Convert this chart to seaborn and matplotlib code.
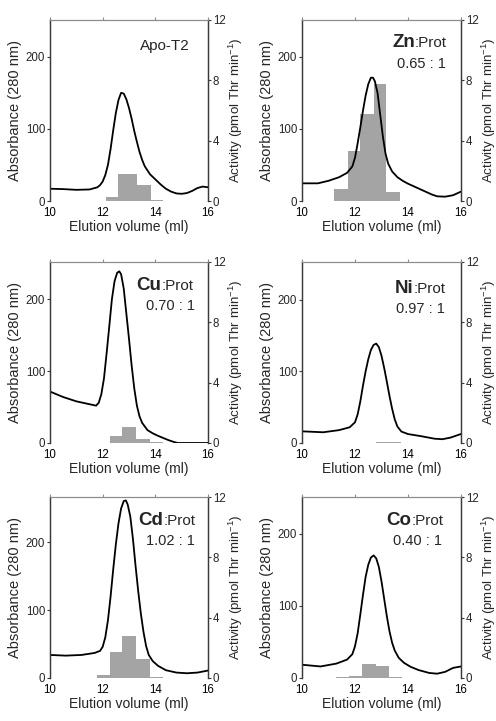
"""
Elution profiles of T2 with different metals: absorbance (line) and activity (bars)
"""
import numpy as np
import matplotlib
matplotlib.use("Agg")
import matplotlib.pyplot as plt
import seaborn as sns

sns.set_theme(style="ticks")
plt.rcParams["font.family"] = ["Liberation Sans", "DejaVu Sans"]
plt.rcParams["mathtext.fontset"] = "custom"
plt.rcParams["mathtext.rm"] = "Liberation Sans"
plt.rcParams["mathtext.it"] = "Liberation Sans:italic"

# ── data: absorbance curves (ml, A280) ────────────────────────
apo_x = [10, 10.5, 11, 11.5, 11.8, 11.9, 12.0, 12.1, 12.2, 12.3, 12.4, 12.5, 12.6, 12.7, 12.8, 12.9, 13.0,
         13.1, 13.2, 13.3, 13.4, 13.5, 13.6, 13.8, 14.0, 14.2, 14.4, 14.6, 14.8, 15.0, 15.2, 15.4, 15.6, 15.8, 16]
apo_y = [17, 16.5, 15.5, 16, 19, 22, 27, 36, 50, 72, 98, 122, 140, 150, 149, 141, 129,
         114, 97, 82, 68, 57, 48, 37, 30, 23, 17, 13, 10.5, 10, 11, 14, 18, 20, 19]

zn_x = [10, 10.6, 11.0, 11.4, 11.7, 11.9, 12.0, 12.1, 12.2, 12.3, 12.4, 12.5, 12.6, 12.68, 12.75, 12.85,
        12.95, 13.05, 13.15, 13.25, 13.4, 13.6, 13.8, 14.0, 14.3, 14.6, 14.9, 15.1, 15.4, 15.7, 16]
zn_y = [24.5, 24.5, 28, 33, 39, 48, 60, 80, 102, 125, 146, 162, 171, 171, 166, 150,
        120, 90, 66, 52, 41, 33, 28, 24, 19, 14, 9, 6.5, 6, 8, 13]

cu_x = [10, 10.5, 11, 11.5, 11.75, 11.85, 11.95, 12.05, 12.15, 12.25, 12.35, 12.45, 12.55, 12.63, 12.7,
        12.8, 12.9, 13.0, 13.1, 13.2, 13.3, 13.4, 13.5, 13.7, 13.9, 14.1, 14.3, 14.5, 14.7, 14.85, 16]
cu_y = [71.6, 64, 58, 54, 52, 56, 68, 90, 125, 162, 200, 225, 237, 239, 235,
        215, 180, 145, 108, 76, 52, 37, 28, 18, 13.5, 10, 7, 4, 1.5, 0, 0]

ni_x = [10, 10.8, 11.4, 11.8, 12.0, 12.1, 12.2, 12.3, 12.4, 12.5, 12.6, 12.7, 12.8, 12.9, 13.0, 13.1,
        13.2, 13.3, 13.4, 13.5, 13.6, 13.75, 14.0, 14.5, 15.0, 15.3, 15.6, 16]
ni_y = [16.3, 15, 18, 22, 29, 40, 58, 80, 100, 117, 130, 137, 139, 134, 122, 105,
        86, 66, 48, 33, 23, 16, 12.5, 9.5, 6, 5.3, 7.5, 12.6]

cd_x = [10, 10.6, 11.2, 11.7, 11.9, 12.0, 12.1, 12.2, 12.3, 12.4, 12.5, 12.6, 12.7, 12.8, 12.88, 12.95,
        13.05, 13.15, 13.25, 13.35, 13.45, 13.55, 13.65, 13.75, 13.9, 14.1, 14.4, 14.8, 15.2, 15.6, 16]
cd_y = [34, 33, 34, 37, 40, 46, 60, 85, 120, 160, 197, 228, 250, 261, 262, 256,
        238, 205, 165, 128, 95, 68, 47, 34, 25, 18, 11.5, 8, 7, 8, 11]

co_x = [10, 10.7, 11.3, 11.7, 11.9, 12.0, 12.1, 12.2, 12.3, 12.4, 12.5, 12.6, 12.7, 12.8, 12.9, 13.0,
        13.1, 13.2, 13.3, 13.4, 13.5, 13.65, 13.85, 14.1, 14.4, 14.8, 15.1, 15.4, 15.7, 16]
co_y = [18.4, 16, 20, 25.5, 33, 44, 62, 88, 115, 140, 157, 167, 170, 166, 154, 134,
        110, 86, 65, 49, 38, 28, 21, 15.5, 11, 7, 6, 8.5, 14, 16]

# ── data: activity fractions (bin edges in ml, pmol Thr/min) ──
apo_edges = [12.13, 12.6, 13.3, 13.83, 14.3]
apo_act = [0.29, 1.79, 1.06, 0.07]

zn_edges = [11.2, 11.73, 12.17, 12.7, 13.18, 13.71]
zn_act = [0.77, 3.34, 5.77, 7.76, 0.57]

cu_edges = [11.77, 12.27, 12.75, 13.28, 13.81, 14.29]
cu_act = [0.03, 0.48, 1.06, 0.29, 0.05]

ni_edges = [12.78, 13.25, 13.75]
ni_act = [0.04, 0.06]

cd_edges = [11.77, 12.27, 12.75, 13.28, 13.79, 14.29]
cd_act = [0.2, 1.74, 2.78, 1.28, 0.09]

co_edges = [11.29, 11.77, 12.26, 12.8, 13.28, 13.78]
co_act = [0.04, 0.15, 0.93, 0.79, 0.07]

# ── panels: (metal, ratio, curve x, curve y, edges, activity, A280 top) ──
panels = [
    (None, "Apo-T2", apo_x, apo_y, apo_edges, apo_act, 251),
    ("Zn", "0.65 : 1", zn_x, zn_y, zn_edges, zn_act, 251),
    ("Cu", "0.70 : 1", cu_x, cu_y, cu_edges, cu_act, 252),
    ("Ni", "0.97 : 1", ni_x, ni_y, ni_edges, ni_act, 253),
    ("Cd", "1.02 : 1", cd_x, cd_y, cd_edges, cd_act, 267),
    ("Co", "0.40 : 1", co_x, co_y, co_edges, co_act, 251),
]

# axes rectangles in pixels (left, top, right, bottom) of a 496x721 figure
W, H = 496, 721
boxes = [
    (50, 20, 208, 201), (302, 20, 461, 201),
    (50, 262, 208, 443), (302, 262, 461, 443),
    (50, 497, 208, 678), (302, 497, 461, 678),
]
# label anchor (junction x, line-1 baseline, ratio centre x, ratio baseline)
label_pos = [
    (0.73, 0.835, None, None),
    (0.71, 0.852, 0.75, 0.735),
    (0.705, 0.844, 0.764, 0.734),
    (0.70, 0.83, 0.745, 0.72),
    (0.716, 0.844, 0.762, 0.734),
    (0.688, 0.844, 0.724, 0.734),
]

SPINE = "#3a3a3a"
BAR = "#a4a4a4"

fig = plt.figure(figsize=(W / 100, H / 100), dpi=100)

for (metal, ratio, cx, cy, edges, act, atop), (l, t, r, b), lp in zip(panels, boxes, label_pos):
    ax = fig.add_axes([l / W, 1 - b / H, (r - l) / W, (b - t) / H])
    ax2 = ax.twinx()
    # curve on top of bars
    ax.set_zorder(ax2.get_zorder() + 1)
    ax.patch.set_visible(False)

    e = np.array(edges)
    ax2.bar(e[:-1], act, width=np.diff(e), align="edge", color=BAR, edgecolor="none", linewidth=0)
    sns.lineplot(x=cx, y=cy, ax=ax, color="black", linewidth=1.3, sort=False)

    ax.set_xlim(10, 16)
    ax.set_ylim(0, atop)
    ax2.set_ylim(0, 12)
    ax.set_xticks([10, 12, 14, 16])
    ax.set_yticks([0, 100, 200])
    ax2.set_yticks([0, 4, 8, 12])

    for a in (ax, ax2):
        a.spines["bottom"].set_visible(False)
        a.spines["top"].set_color("#8c8c8c")
        a.spines["top"].set_linewidth(0.8)
        a.spines["left"].set_color(SPINE)
        a.spines["right"].set_color(SPINE)
        a.spines["left"].set_linewidth(0.9)
        a.spines["right"].set_linewidth(0.9)
    ax2.spines["right"].set_visible(True)

    ax.tick_params(axis="x", bottom=False, top=True, labelbottom=True, labeltop=False,
                   direction="out", length=2.5, width=0.8, color="#8c8c8c",
                   labelsize=8.3, pad=1.5, labelcolor="black")
    ax.tick_params(axis="y", direction="out", length=2.5, width=0.8, color=SPINE,
                   labelsize=8.3, pad=1)
    ax2.tick_params(axis="y", direction="out", length=2.5, width=0.8, color=SPINE,
                    labelsize=8.3, pad=1)

    ax.set_xlabel("Elution volume (ml)", fontsize=10, labelpad=1)
    ax.set_ylabel("Absorbance (280 nm)", fontsize=10.5, labelpad=3)
    ax2.set_ylabel(r"Activity (pmol Thr min$^{-1}$)", fontsize=9.6, labelpad=0.5)

    jx, jy, rx, ry = lp
    if metal is None:
        ax.text(jx, jy, ratio, transform=ax.transAxes, ha="center", va="baseline", fontsize=11)
    else:
        ax.text(jx, jy, metal, transform=ax.transAxes, ha="right", va="baseline",
                fontsize=13.5, fontweight="bold")
        ax.text(jx, jy, ":Prot", transform=ax.transAxes, ha="left", va="baseline", fontsize=11)
        ax.text(rx, ry, ratio, transform=ax.transAxes, ha="center", va="baseline", fontsize=10.5)

fig.savefig("out.png", dpi=100)
